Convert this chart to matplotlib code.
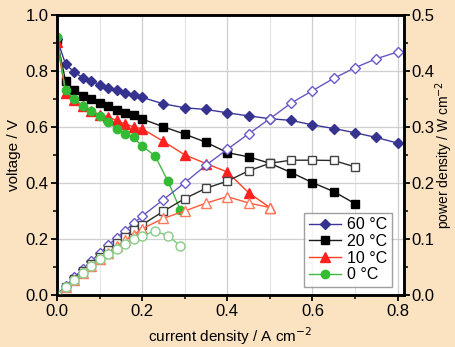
import numpy as np
import matplotlib
matplotlib.use('Agg')
import matplotlib.pyplot as plt
from matplotlib.ticker import MultipleLocator

plt.rcParams['font.family'] = ['Liberation Sans', 'DejaVu Sans']
plt.rcParams['font.size'] = 11

# current density / A cm-2
i_60 = [0, 0.02, 0.04, 0.06, 0.08, 0.10, 0.12, 0.14, 0.16, 0.18, 0.20, 0.25, 0.30, 0.35, 0.40, 0.45, 0.50, 0.55, 0.60, 0.65, 0.70, 0.75, 0.80]
i_20 = [0, 0.02, 0.04, 0.06, 0.08, 0.10, 0.12, 0.14, 0.16, 0.18, 0.20, 0.25, 0.30, 0.35, 0.40, 0.45, 0.50, 0.55, 0.60, 0.65, 0.70]
i_10 = [0, 0.02, 0.04, 0.06, 0.08, 0.10, 0.12, 0.14, 0.16, 0.18, 0.20, 0.25, 0.30, 0.35, 0.40, 0.45, 0.50]
i_0 = [0, 0.02, 0.04, 0.06, 0.08, 0.10, 0.12, 0.14, 0.16, 0.18, 0.20, 0.23, 0.26, 0.29]

# voltage / V
v_60 = [0.915, 0.825, 0.797, 0.777, 0.764, 0.752, 0.741, 0.732, 0.721, 0.714, 0.706, 0.683, 0.669, 0.663, 0.651, 0.640, 0.630, 0.624, 0.608, 0.595, 0.580, 0.563, 0.543]
v_20 = [0.910, 0.765, 0.732, 0.712, 0.701, 0.686, 0.674, 0.662, 0.650, 0.643, 0.629, 0.601, 0.575, 0.546, 0.509, 0.494, 0.471, 0.438, 0.402, 0.370, 0.327]
v_10 = [0.904, 0.722, 0.698, 0.674, 0.658, 0.645, 0.636, 0.624, 0.611, 0.601, 0.594, 0.549, 0.501, 0.470, 0.440, 0.366, 0.313]
v_0 = [0.920, 0.731, 0.701, 0.676, 0.659, 0.640, 0.620, 0.593, 0.576, 0.563, 0.532, 0.498, 0.409, 0.304]

# power density / W cm-2
p_60 = [0, 0.0165, 0.0319, 0.0466, 0.0611, 0.0752, 0.0889, 0.1025, 0.1154, 0.1285, 0.1412, 0.1708, 0.2007, 0.2321, 0.2604, 0.288, 0.315, 0.343, 0.365, 0.387, 0.406, 0.422, 0.434]
p_20 = [0, 0.0153, 0.0293, 0.0427, 0.0561, 0.0686, 0.0809, 0.0927, 0.1040, 0.1157, 0.1258, 0.150, 0.1725, 0.191, 0.2036, 0.222, 0.2355, 0.241, 0.241, 0.2405, 0.229]
p_10 = [0, 0.0144, 0.0279, 0.0404, 0.0526, 0.0645, 0.0763, 0.0874, 0.0978, 0.1082, 0.1188, 0.1373, 0.1503, 0.1645, 0.176, 0.1647, 0.1565]
p_0 = [0, 0.0146, 0.028, 0.0406, 0.0527, 0.064, 0.0744, 0.083, 0.0922, 0.1013, 0.1064, 0.1145, 0.1063, 0.0882]

labels = ['60 °C', '20 °C', '10 °C', '0 °C']

fig = plt.figure(figsize=(4.56, 3.47), dpi=100, facecolor='#FBE2C0')
ax = fig.add_axes([57/456, 1-295.3/347, 347/456, 280.3/347])
ax2 = ax.twinx()

ax.plot(i_60, v_60, '-D', color='#3a3799', mfc='#35338f', mec='#35338f', ms=5.5, lw=1, label=labels[0])
ax.plot(i_20, v_20, '-s', color='#1a1a1a', mfc='black', mec='black', ms=5.5, lw=1, label=labels[1])
ax.plot(i_10, v_10, '-^', color='#ff4020', mfc='#ff2020', mec='#ff2020', ms=6.5, lw=1, label=labels[2])
ax.plot(i_0, v_0, '-o', color='#44b844', mfc='#33bb33', mec='#33bb33', ms=6, lw=1, label=labels[3])

ax2.plot(i_60, p_60, '-D', color='#6658c0', mfc='white', mec='#6a5acb', mew=1, ms=5.5, lw=1)
ax2.plot(i_20, p_20, '-s', color='#2a2a2a', mfc='white', mec='#444444', mew=1, ms=6, lw=1)
ax2.plot(i_10, p_10, '-^', color='#ff5a3a', mfc='white', mec='#ff7a5a', mew=1, ms=7, lw=1)
ax2.plot(i_0, p_0, '-o', color='#80c880', mfc='white', mec='#88cc88', mew=1, ms=6.5, lw=1)

ax.set_xlim(0, 0.815)
ax.set_ylim(0, 1.0)
ax2.set_ylim(0, 0.5)

ax.xaxis.set_major_locator(MultipleLocator(0.2))
ax.xaxis.set_minor_locator(MultipleLocator(0.1))
ax.yaxis.set_major_locator(MultipleLocator(0.2))
ax.yaxis.set_minor_locator(MultipleLocator(0.1))
ax2.yaxis.set_major_locator(MultipleLocator(0.1))
ax2.yaxis.set_minor_locator(MultipleLocator(0.05))

ax.grid(which='major', color='#cfcfcf', lw=0.9)
ax.grid(which='minor', axis='x', color='#e4e4e4', lw=0.8)
ax.set_axisbelow(True)

for a in (ax, ax2):
    for s in a.spines.values():
        s.set_linewidth(1.8)
    a.tick_params(which='major', direction='out', length=4, width=1.3)
    a.tick_params(which='minor', direction='out', length=3, width=1.1)
ax.tick_params(axis='both', labelsize=12, pad=2)
ax2.tick_params(axis='y', labelsize=12, pad=1)

ax.set_xlabel('current density / A cm$^{-2}$', fontsize=11, labelpad=5)
ax.set_ylabel('voltage / V', fontsize=11, labelpad=3)
ax2.set_ylabel('power density / W cm$^{-2}$', fontsize=10)
ax2.yaxis.set_label_coords(1.084, 0.5)

h, l = ax.get_legend_handles_labels()
leg = ax2.legend(h, l, loc='lower right', bbox_to_anchor=(0.966, 0.03), frameon=True,
                 fancybox=False, edgecolor='#888888', fontsize=11.5, handlelength=2.0,
                 handletextpad=0.4, borderpad=0.3, labelspacing=0.1, borderaxespad=0)
leg.get_frame().set_linewidth(1)

fig.savefig('out.png', dpi=100, facecolor=fig.get_facecolor())
